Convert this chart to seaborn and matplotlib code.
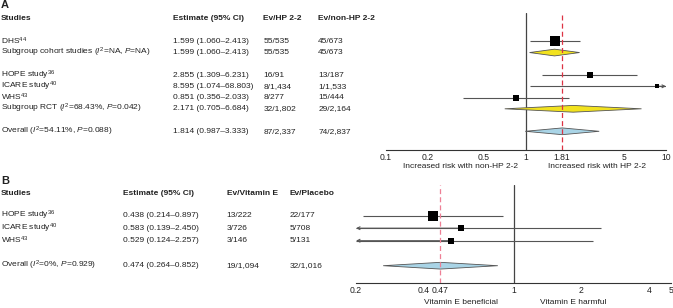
import numpy as np
import matplotlib
matplotlib.use("Agg")
import matplotlib.pyplot as plt
import seaborn as sns
from matplotlib.ticker import NullLocator
from matplotlib.transforms import blended_transform_factory

# ---------------- data: panel A (HP 2-2 vs non-HP 2-2) ----------------
a_studies = [r"DHS$^{44}$",
             r"Subgroup cohort studies ($I^2$=NA, $P$=NA)",
             r"HOPE study$^{36}$",
             r"ICARE study$^{40}$",
             r"WHS$^{43}$",
             r"Subgroup RCT ($I^2$=68.43%, $P$=0.042)",
             r"Overall ($I^2$=54.11%, $P$=0.088)"]
a_kind = ["study", "subgroup", "study", "study", "study", "subgroup", "overall"]
a_est = [1.599, 1.599, 2.855, 8.595, 0.851, 2.171, 1.814]
a_lo = [1.060, 1.060, 1.309, 1.074, 0.356, 0.705, 0.987]
a_hi = [2.413, 2.413, 6.231, 68.803, 2.033, 6.684, 3.333]
a_ev1 = ["55/535", "55/535", "16/91", "8/1,434", "8/277", "32/1,802", "87/2,337"]
a_ev2 = ["45/673", "45/673", "13/187", "1/1,533", "15/444", "29/2,164", "74/2,837"]
a_weight = [49, 0, 21, 9, 21, 0, 0]
a_header = ["Studies", "Estimate (95% CI)", "Ev/HP 2-2", "Ev/non-HP 2-2"]
a_ticks = [0.1, 0.2, 0.5, 1, 1.81, 2, 5, 10]
a_ticklabels = ["0.1", "0.2", "0.5", "1", "1.81", "", "5", "10"]
a_xlabels = ["Increased risk with non-HP 2-2", "Increased risk with HP 2-2"]

# ---------------- data: panel B (vitamin E vs placebo) ----------------
b_studies = [r"HOPE study$^{36}$",
             r"ICARE study$^{40}$",
             r"WHS$^{43}$",
             r"Overall ($I^2$=0%, $P$=0.929)"]
b_kind = ["study", "study", "study", "overall"]
b_est = [0.438, 0.583, 0.529, 0.474]
b_lo = [0.214, 0.139, 0.124, 0.264]
b_hi = [0.897, 2.450, 2.257, 0.852]
b_ev1 = ["13/222", "3/726", "3/146", "19/1,094"]
b_ev2 = ["22/177", "5/708", "5/131", "32/1,016"]
b_weight = [53, 26, 22, 0]
b_header = ["Studies", "Estimate (95% CI)", "Ev/Vitamin E", "Ev/Placebo"]
b_ticks = [0.2, 0.4, 0.47, 1, 2, 4, 5]
b_ticklabels = ["0.2", "0.4", "0.47", "1", "2", "4", "5"]
b_xlabels = ["Vitamin E beneficial", "Vitamin E harmful"]

# ---------------- style ----------------
sns.set_style("white")
plt.rcParams["font.family"] = ["Liberation Sans", "DejaVu Sans"]
plt.rcParams["mathtext.fontset"] = "custom"
plt.rcParams["mathtext.rm"] = "Liberation Sans"
plt.rcParams["mathtext.it"] = "Liberation Sans:italic"
plt.rcParams["mathtext.bf"] = "Liberation Sans:bold"

W, H = 673, 308
fig = plt.figure(figsize=(W / 100, H / 100), dpi=100)

TXT = "#222222"
LINE = "#555555"
COLORS = {"subgroup": "#f2e21e", "overall": "#a9d4e6"}


def px_axes(left, top, right, bottom):
    return fig.add_axes([left / W, 1 - bottom / H, (right - left) / W, (bottom - top) / H])


def forest(ax, rows, kind, est, lo, hi, weight, xlim, ticks, ticklabels,
           ref_color, diamond_h):
    ax.set_xscale("log")
    ax.set_xlim(*xlim)
    arrow = dict(arrowstyle="->", lw=0.8, color=LINE, mutation_scale=5,
                 shrinkA=0, shrinkB=0)
    for r, k, e, l, h, w in zip(rows, kind, est, lo, hi, weight):
        if k == "study":
            l_c, h_c = max(l, xlim[0]), min(h, xlim[1])
            ax.hlines(r, l_c, h_c, color=LINE, lw=0.8, zorder=2)
            # CI running off the scale gets an arrow
            if h > xlim[1]:
                ax.annotate("", xy=(xlim[1], r), xytext=(e, r), arrowprops=arrow, zorder=2)
            if l < xlim[0]:
                ax.annotate("", xy=(xlim[0], r), xytext=(e, r), arrowprops=arrow, zorder=2)
            side = 1.3 * np.sqrt(w) * 0.72
            sns.scatterplot(x=[e], y=[r], marker="s", s=side ** 2, color="black",
                            edgecolor="black", linewidth=0, zorder=4, ax=ax)
        else:
            ax.fill([l, e, h, e], [r, r - diamond_h, r, r + diamond_h],
                    facecolor=COLORS[k], edgecolor="#555555", lw=0.6, zorder=3)
    ax.axvline(1, color="#444444", lw=0.9, zorder=1)
    ax.axvline(est[-1], color=ref_color, lw=0.9, ls=(0, (4, 2.5)), zorder=3.5)
    ax.xaxis.set_minor_locator(NullLocator())
    ax.set_xticks(ticks)
    ax.set_xticklabels(ticklabels)
    ax.set_yticks([])
    ax.set_xlabel("")
    ax.set_ylabel("")
    for s in ["left", "right", "top"]:
        ax.spines[s].set_visible(False)
    ax.spines["bottom"].set_color("#333333")
    ax.spines["bottom"].set_linewidth(0.8)
    ax.tick_params(axis="x", direction="in", length=4, width=0.7, color="#333333",
                   labelsize=6.2, pad=2, labelcolor=TXT)
    ax.patch.set_alpha(0)


def table(ax, rows, header, header_row, label, label_row, cols_x, studies, est, lo, hi, ev1, ev2):
    tr = blended_transform_factory(fig.transFigure, ax.transData)
    ax.text(1 / W, label_row, label, transform=tr, fontsize=8, fontweight="bold",
            va="center", ha="left", color=TXT)
    for x, t in zip(cols_x, header):
        ax.text(x / W, header_row, t, transform=tr, fontsize=6, fontweight="bold",
                va="center", ha="left", color=TXT)
    for r, s, e, l, h, a, b in zip(rows, studies, est, lo, hi, ev1, ev2):
        vals = [s, f"{e:.3f} ({l:.3f}\u2013{h:.3f})", a, b]
        for x, t in zip(cols_x, vals):
            ax.text(x / W, r, t, transform=tr, fontsize=6, va="center", ha="left",
                    color=TXT)


# ---------------- panel A ----------------
a_rows = [0, 1, 3, 4, 5, 6, 8]
a_row0, a_step = 41.3, 11.25
axA = px_axes(386, 13, 666, 150)
forest(axA, a_rows, a_kind, a_est, a_lo, a_hi, a_weight, (0.1, 10),
       a_ticks, a_ticklabels, "#dd3344", 0.3)
axA.set_ylim((150 - a_row0) / a_step, (13 - a_row0) / a_step)
table(axA, a_rows, a_header, (18.5 - a_row0) / a_step, "A", (5 - a_row0) / a_step,
      [1, 172.7, 263.3, 318.3], a_studies, a_est, a_lo, a_hi, a_ev1, a_ev2)
for xf, t in zip([0.267, 0.754], a_xlabels):
    axA.text(xf, 1 - 166.5 / H, t, transform=blended_transform_factory(axA.transAxes, fig.transFigure),
             fontsize=6, ha="center", va="center", color=TXT)

# ---------------- panel B ----------------
b_rows = [0, 1, 2, 4]
b_row0, b_step = 215.7, 12.5
axB = px_axes(356, 185, 671, 283)
forest(axB, b_rows, b_kind, b_est, b_lo, b_hi, b_weight, (0.2, 5),
       b_ticks, b_ticklabels, "#ee7f95", 0.27)
axB.set_ylim((283 - b_row0) / b_step, (185 - b_row0) / b_step)
table(axB, b_rows, b_header, (193.3 - b_row0) / b_step, "B", (180.7 - b_row0) / b_step,
      [1, 122.7, 226.7, 289.3], b_studies, b_est, b_lo, b_hi, b_ev1, b_ev2)
for xf, t in zip([0.332, 0.691], b_xlabels):
    axB.text(xf, 1 - 302.5 / H, t, transform=blended_transform_factory(axB.transAxes, fig.transFigure),
             fontsize=6, ha="center", va="center", color=TXT)

fig.savefig("out.png", dpi=100)
